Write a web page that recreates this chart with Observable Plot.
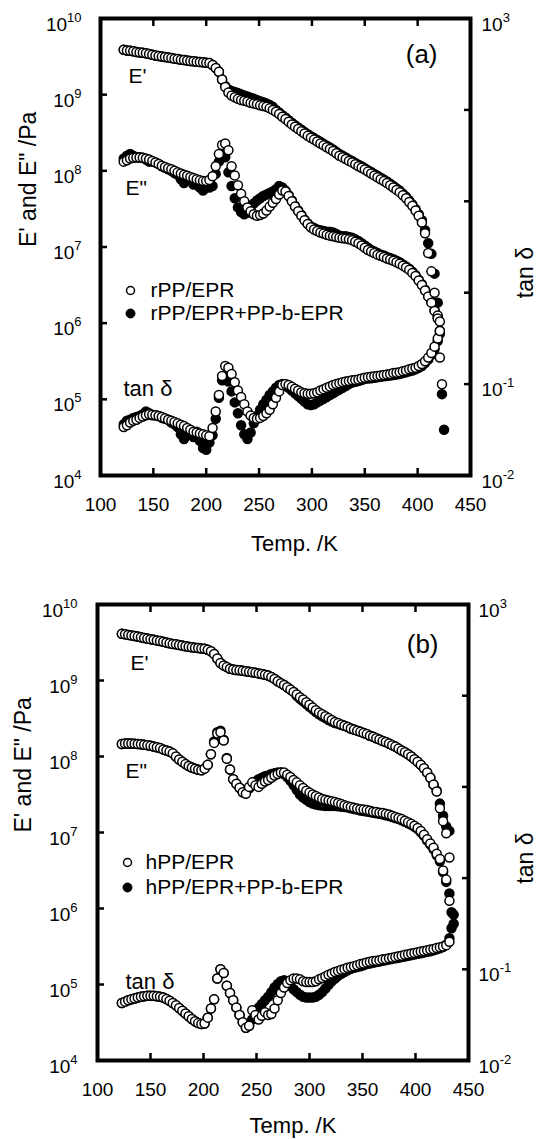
<!DOCTYPE html>
<html><head><meta charset="utf-8">
<script src="https://cdn.jsdelivr.net/npm/d3@7"></script>
<script src="https://cdn.jsdelivr.net/npm/@observablehq/plot@0.6"></script>
<style>
html,body{margin:0;padding:0;background:#fff;}
#chart{width:541px;height:1139px;overflow:hidden;background:#fff;}
#chart svg{display:block;}
</style></head><body><div id="chart"></div>
<script>
// ---------- Panel (a): temperatures (K) ----------
const tempA = [122,125,128,131,134,137,140,143,146,149,
152,155,158,161,164,167,170,173,176,179,
182,185,188,191,194,197,200,203,206,209,
212,215,218,221,224,227,230,233,236,239,
242,245,248,251,254,257,260,263,266,269,
272,275,278,281,284,287,290,293,296,299,
302,305,308,311,314,317,320,323,326,329,
332,335,338,341,344,347,350,353,356,359,
362,365,368,371,374,377,380,383,386,389,
392,395,398,401,404,407,410,413,416,419,
421,423,425];
// rPP/EPR (open circles)
const rppStorage = [3.89e9,3.80e9,3.76e9,3.72e9,3.63e9,3.59e9,3.55e9,3.50e9,3.43e9,3.35e9,
3.27e9,3.21e9,3.16e9,3.13e9,3.07e9,3.02e9,2.97e9,2.93e9,2.88e9,2.85e9,
2.81e9,2.77e9,2.74e9,2.71e9,2.69e9,2.66e9,2.63e9,2.60e9,2.45e9,2.24e9,
2.00e9,1.58e9,1.26e9,1.07e9,9.77e8,9.23e8,8.81e8,8.51e8,8.32e8,8.13e8,
7.85e8,7.67e8,7.50e8,7.24e8,7.08e8,6.92e8,6.61e8,6.31e8,5.96e8,5.56e8,
5.13e8,4.79e8,4.42e8,4.07e8,3.80e8,3.55e8,3.31e8,3.09e8,2.88e8,2.72e8,
2.57e8,2.43e8,2.29e8,2.16e8,2.04e8,1.93e8,1.82e8,1.70e8,1.58e8,1.51e8,
1.43e8,1.35e8,1.29e8,1.22e8,1.15e8,1.10e8,1.04e8,9.77e7,9.23e7,8.71e7,
8.22e7,7.76e7,7.33e7,6.92e7,6.46e7,6.03e7,5.62e7,5.25e7,4.79e7,4.37e7,
3.89e7,3.47e7,3.02e7,2.57e7,2.09e7,1.51e7,8.32e6,4.79e6,2.51e6,1.26e6,
3.55e5,1.58e5,null];
const rppLoss = [1.32e8,1.38e8,1.45e8,1.48e8,1.50e8,1.50e8,1.48e8,1.45e8,1.41e8,1.35e8,
1.29e8,1.23e8,1.17e8,1.12e8,1.08e8,1.05e8,1.00e8,9.55e7,9.23e7,8.91e7,
8.61e7,8.32e7,8.04e7,7.76e7,7.50e7,7.33e7,7.33e7,7.59e7,8.51e7,1.15e8,
1.66e8,2.19e8,2.29e8,1.86e8,1.15e8,8.71e7,6.46e7,5.01e7,3.98e7,3.31e7,
2.95e7,2.69e7,2.57e7,2.63e7,2.75e7,3.02e7,3.39e7,3.80e7,4.27e7,4.90e7,
5.50e7,5.37e7,4.68e7,3.98e7,3.39e7,2.95e7,2.57e7,2.24e7,2.00e7,1.82e7,
1.70e7,1.62e7,1.55e7,1.50e7,1.45e7,1.41e7,1.38e7,1.35e7,1.32e7,1.30e7,
1.29e7,1.26e7,1.23e7,1.17e7,1.12e7,1.05e7,9.77e6,9.12e6,8.71e6,8.32e6,
7.94e6,7.67e6,7.41e6,7.08e6,6.84e6,6.61e6,6.31e6,6.03e6,5.69e6,5.37e6,
5.01e6,4.57e6,4.17e6,3.63e6,3.16e6,2.69e6,2.24e6,1.86e6,1.45e6,1.15e6,
1.05e6,null,null];
const rppTan = [0.0339,0.0355,0.0380,0.0398,0.0407,0.0427,0.0442,0.0457,0.0468,0.0462,
0.0457,0.0447,0.0437,0.0422,0.0407,0.0398,0.0385,0.0372,0.0359,0.0347,
0.0331,0.0316,0.0302,0.0295,0.0288,0.0282,0.0275,0.0269,0.0331,0.0501,
0.0759,0.123,0.158,0.151,0.129,0.105,0.0851,0.0724,0.0603,0.0501,
0.0452,0.0427,0.0417,0.0427,0.0447,0.0479,0.0525,0.0603,0.0708,0.0832,
0.0977,0.100,0.0977,0.0933,0.0891,0.0851,0.0813,0.0794,0.0785,0.0785,
0.0794,0.0813,0.0851,0.0881,0.0912,0.0944,0.0977,0.100,0.102,0.105,
0.107,0.108,0.110,0.111,0.112,0.115,0.117,0.119,0.120,0.122,
0.123,0.124,0.126,0.127,0.129,0.132,0.133,0.135,0.138,0.141,
0.145,0.148,0.151,0.158,0.166,0.178,0.195,0.219,0.257,0.316,
0.380,null,null];
// rPP/EPR+PP-b-EPR (filled circles)
const rppbStorage = [3.89e9,3.80e9,3.76e9,3.72e9,3.63e9,3.59e9,3.55e9,3.50e9,3.43e9,3.35e9,
3.27e9,3.21e9,3.16e9,3.13e9,3.07e9,3.02e9,2.97e9,2.93e9,2.88e9,2.85e9,
2.81e9,2.77e9,2.74e9,2.71e9,2.69e9,2.66e9,2.63e9,2.60e9,2.45e9,2.24e9,
2.00e9,1.58e9,1.30e9,1.17e9,1.12e9,1.08e9,1.05e9,1.01e9,9.77e8,9.44e8,
9.12e8,8.81e8,8.51e8,8.22e8,7.94e8,7.67e8,7.33e8,6.92e8,6.31e8,5.82e8,
5.37e8,5.01e8,4.62e8,4.27e8,3.98e8,3.72e8,3.47e8,3.24e8,3.02e8,2.85e8,
2.69e8,2.54e8,2.40e8,2.26e8,2.14e8,2.02e8,1.91e8,1.78e8,1.66e8,1.58e8,
1.50e8,1.41e8,1.35e8,1.27e8,1.20e8,1.15e8,1.08e8,1.02e8,9.66e7,9.12e7,
8.61e7,8.13e7,7.67e7,7.24e7,6.76e7,6.31e7,5.89e7,5.50e7,5.01e7,4.57e7,
4.07e7,3.63e7,3.16e7,2.69e7,2.24e7,1.66e7,1.12e7,8.13e6,4.47e6,1.86e6,
7.94e5,1.17e5,3.98e4];
const rppbLoss = [1.45e8,1.58e8,1.66e8,1.58e8,1.51e8,1.51e8,1.48e8,1.41e8,1.32e8,1.32e8,
1.29e8,1.23e8,1.15e8,1.10e8,1.05e8,1.00e8,9.33e7,8.91e7,7.76e7,6.92e7,
7.94e7,7.59e7,6.61e7,6.92e7,6.03e7,5.50e7,6.31e7,6.03e7,6.31e7,9.12e7,
1.32e8,1.74e8,1.51e8,9.55e7,6.31e7,4.37e7,3.31e7,2.88e7,2.69e7,2.82e7,
3.31e7,3.72e7,4.07e7,4.37e7,4.68e7,4.90e7,5.13e7,5.37e7,5.75e7,6.31e7,
6.03e7,5.50e7,4.79e7,4.07e7,3.47e7,3.02e7,2.63e7,2.29e7,2.04e7,1.86e7,
1.78e7,1.70e7,1.66e7,1.62e7,1.58e7,1.58e7,1.55e7,1.48e7,1.41e7,1.38e7,
1.38e7,1.35e7,1.32e7,1.26e7,1.20e7,1.12e7,1.05e7,9.77e6,9.12e6,8.71e6,
8.32e6,7.94e6,7.76e6,7.41e6,7.16e6,6.92e6,6.61e6,6.31e6,5.89e6,5.56e6,
5.19e6,4.73e6,4.27e6,3.72e6,3.24e6,2.75e6,2.29e6,1.91e6,1.48e6,1.20e6,
null,null,null];
const rppbTan = [0.0363,0.0398,0.0407,0.0427,0.0437,0.0447,0.0468,0.0501,0.0479,0.0457,
0.0457,0.0447,0.0427,0.0417,0.0407,0.0380,0.0363,0.0339,0.0282,0.0251,
0.0316,0.0295,0.0263,0.0302,0.0240,0.0200,0.0191,0.0229,0.0275,0.0417,
0.0708,0.110,0.120,0.107,0.0832,0.0631,0.0479,0.0355,0.0282,0.0251,
0.0295,0.0372,0.0447,0.0525,0.0603,0.0676,0.0759,0.0832,0.0912,0.0977,
0.100,0.0977,0.0912,0.0851,0.0794,0.0741,0.0692,0.0646,0.0603,0.0589,
0.0603,0.0631,0.0661,0.0692,0.0724,0.0759,0.0794,0.0832,0.0871,0.0912,
0.0955,0.100,0.104,0.106,0.108,0.111,0.114,0.115,0.116,0.117,
0.119,0.120,0.122,0.123,0.124,0.126,0.127,0.129,0.132,0.135,
0.138,0.141,0.145,0.151,0.158,0.170,0.186,0.209,0.240,0.295,
0.355,null,null];

// ---------- Panel (b): temperatures (K) ----------
const tempB = [123,126,129,132,135,138,141,144,147,150,
153,156,159,162,165,168,171,174,177,180,
183,186,189,192,195,198,201,204,207,210,
213,216,219,222,225,228,231,234,237,240,
243,246,249,252,255,258,261,264,267,270,
273,276,279,282,285,288,291,294,297,300,
303,306,309,312,315,318,321,324,327,330,
333,336,339,342,345,348,351,354,357,360,
363,366,369,372,375,378,381,384,387,390,
393,396,399,402,405,408,411,414,417,420,
423,426,429,432,434,436];
// hPP/EPR (open circles)
const hppStorage = [4.11e9,4.05e9,3.98e9,3.92e9,3.85e9,3.78e9,3.71e9,3.63e9,3.56e9,3.50e9,
3.43e9,3.37e9,3.30e9,3.24e9,3.16e9,3.09e9,3.03e9,2.99e9,2.93e9,2.88e9,
2.83e9,2.79e9,2.74e9,2.70e9,2.67e9,2.64e9,2.62e9,2.54e9,2.43e9,2.24e9,
1.95e9,1.70e9,1.58e9,1.50e9,1.43e9,1.40e9,1.37e9,1.36e9,1.34e9,1.32e9,
1.30e9,1.28e9,1.26e9,1.24e9,1.22e9,1.19e9,1.16e9,1.11e9,1.05e9,9.77e8,
9.23e8,8.71e8,8.13e8,7.59e8,7.08e8,6.53e8,6.03e8,5.62e8,5.19e8,4.79e8,
4.42e8,4.07e8,3.80e8,3.59e8,3.39e8,3.20e8,3.02e8,2.85e8,2.75e8,2.63e8,
2.54e8,2.45e8,2.34e8,2.26e8,2.19e8,2.11e8,2.04e8,1.97e8,1.88e8,1.82e8,
1.74e8,1.68e8,1.60e8,1.55e8,1.48e8,1.41e8,1.35e8,1.27e8,1.20e8,1.14e8,
1.07e8,1.00e8,9.23e7,8.51e7,7.76e7,7.00e7,6.17e7,5.25e7,4.27e7,3.47e7,
2.09e7,1.41e7,9.77e6,4.68e6,null,null];
const hppLoss = [1.46e8,1.48e8,1.48e8,1.48e8,1.47e8,1.46e8,1.45e8,1.43e8,1.41e8,1.38e8,
1.35e8,1.32e8,1.29e8,1.24e8,1.20e8,1.16e8,1.10e8,1.00e8,9.12e7,8.51e7,
7.94e7,7.50e7,7.16e7,6.92e7,6.68e7,6.61e7,6.92e7,7.76e7,1.07e8,1.51e8,
2.00e8,2.09e8,1.62e8,9.33e7,6.76e7,5.01e7,4.37e7,3.89e7,3.39e7,3.24e7,
3.98e7,4.57e7,4.17e7,3.98e7,4.37e7,4.68e7,4.90e7,5.25e7,5.62e7,5.89e7,
6.17e7,6.17e7,5.75e7,5.37e7,4.90e7,4.57e7,4.17e7,3.85e7,3.55e7,3.35e7,
3.16e7,3.02e7,2.88e7,2.75e7,2.69e7,2.63e7,2.57e7,2.51e7,2.45e7,2.37e7,
2.29e7,2.21e7,2.16e7,2.11e7,2.07e7,2.02e7,2.00e7,1.97e7,1.93e7,1.88e7,
1.86e7,1.82e7,1.80e7,1.76e7,1.72e7,1.66e7,1.60e7,1.55e7,1.50e7,1.43e7,
1.36e7,1.30e7,1.23e7,1.15e7,1.05e7,9.33e6,8.13e6,7.16e6,6.31e6,5.25e6,
4.47e6,3.16e6,2.40e6,1.26e6,null,null];
const hppTan = [0.0427,0.0442,0.0457,0.0468,0.0479,0.0490,0.0501,0.0507,0.0513,0.0513,
0.0513,0.0507,0.0501,0.0490,0.0473,0.0452,0.0427,0.0403,0.0376,0.0351,
0.0327,0.0305,0.0285,0.0269,0.0257,0.0251,0.0254,0.0295,0.0372,0.0468,
0.0794,0.100,0.0912,0.0661,0.0550,0.0457,0.0380,0.0316,0.0263,0.0229,
0.0240,0.0355,0.0316,0.0282,0.0309,0.0339,0.0316,0.0324,0.0372,0.0457,
0.0550,0.0631,0.0708,0.0759,0.0794,0.0794,0.0776,0.0741,0.0724,0.0724,
0.0724,0.0741,0.0776,0.0804,0.0832,0.0871,0.0902,0.0933,0.0955,0.0989,
0.101,0.104,0.106,0.108,0.111,0.114,0.116,0.119,0.121,0.123,
0.124,0.126,0.129,0.130,0.132,0.134,0.136,0.139,0.141,0.144,
0.146,0.149,0.151,0.154,0.157,0.159,0.162,0.165,0.167,0.171,
0.174,0.178,0.184,0.200,null,null];
// hPP/EPR+PP-b-EPR (filled circles)
const hppbStorage = [4.11e9,4.05e9,3.98e9,3.92e9,3.85e9,3.78e9,3.71e9,3.63e9,3.56e9,3.50e9,
3.43e9,3.37e9,3.30e9,3.24e9,3.16e9,3.09e9,3.03e9,2.99e9,2.93e9,2.88e9,
2.83e9,2.79e9,2.74e9,2.70e9,2.67e9,2.64e9,2.62e9,2.54e9,2.43e9,2.24e9,
1.95e9,1.70e9,1.58e9,1.50e9,1.43e9,1.40e9,1.37e9,1.36e9,1.34e9,1.32e9,
1.30e9,1.28e9,1.26e9,1.24e9,1.22e9,1.19e9,1.16e9,1.11e9,1.05e9,9.77e8,
9.23e8,8.71e8,8.13e8,7.59e8,7.08e8,6.31e8,5.75e8,5.31e8,4.90e8,4.52e8,
4.17e8,3.85e8,3.59e8,3.39e8,3.20e8,3.02e8,2.88e8,2.75e8,2.69e8,2.60e8,
2.54e8,2.45e8,2.34e8,2.26e8,2.19e8,2.11e8,2.04e8,1.97e8,1.88e8,1.82e8,
1.74e8,1.68e8,1.60e8,1.55e8,1.48e8,1.41e8,1.35e8,1.27e8,1.20e8,1.14e8,
1.07e8,1.00e8,9.23e7,8.51e7,7.76e7,7.00e7,6.17e7,5.25e7,4.27e7,3.55e7,
2.40e7,1.66e7,1.20e7,1.05e7,null,null];
const hppbLoss = [1.46e8,1.48e8,1.48e8,1.48e8,1.47e8,1.46e8,1.45e8,1.43e8,1.41e8,1.38e8,
1.35e8,1.32e8,1.29e8,1.24e8,1.20e8,1.16e8,1.10e8,1.00e8,9.12e7,8.51e7,
7.94e7,7.50e7,7.16e7,6.92e7,6.68e7,6.61e7,6.92e7,7.76e7,1.07e8,1.58e8,
2.09e8,2.19e8,1.66e8,9.55e7,6.76e7,5.01e7,4.37e7,3.89e7,3.39e7,3.55e7,
3.80e7,4.27e7,4.68e7,5.01e7,5.25e7,5.50e7,5.62e7,5.89e7,6.03e7,6.17e7,
6.17e7,5.89e7,5.37e7,4.79e7,4.17e7,3.63e7,3.16e7,2.88e7,2.69e7,2.51e7,
2.40e7,2.34e7,2.29e7,2.26e7,2.24e7,2.24e7,2.24e7,2.24e7,2.21e7,2.19e7,
2.16e7,2.14e7,2.09e7,2.04e7,2.00e7,1.95e7,1.92e7,1.89e7,1.86e7,1.82e7,
1.79e7,1.76e7,1.73e7,1.69e7,1.65e7,1.60e7,1.55e7,1.50e7,1.45e7,1.38e7,
1.32e7,1.26e7,1.19e7,1.11e7,1.01e7,9.02e6,7.85e6,6.92e6,6.03e6,5.01e6,
4.17e6,3.02e6,2.24e6,1.58e6,8.91e5,6.31e5];
const hppbTan = [0.0427,0.0442,0.0457,0.0468,0.0479,0.0490,0.0501,0.0507,0.0513,0.0513,
0.0513,0.0507,0.0501,0.0490,0.0473,0.0452,0.0427,0.0403,0.0376,0.0351,
0.0327,0.0305,0.0285,0.0269,0.0257,0.0251,0.0254,0.0295,0.0372,0.0468,
0.0794,0.100,0.0912,0.0661,0.0550,0.0457,0.0380,0.0316,0.0263,0.0229,
0.0240,0.0282,0.0339,0.0380,0.0417,0.0457,0.0501,0.0562,0.0631,0.0692,
0.0741,0.0759,0.0724,0.0661,0.0603,0.0562,0.0525,0.0501,0.0490,0.0490,
0.0490,0.0501,0.0525,0.0562,0.0617,0.0676,0.0741,0.0794,0.0851,0.0891,
0.0933,0.0977,0.101,0.104,0.106,0.108,0.111,0.114,0.116,0.118,
0.120,0.122,0.124,0.126,0.128,0.130,0.132,0.134,0.136,0.138,
0.141,0.143,0.145,0.148,0.150,0.153,0.156,0.158,0.162,0.166,
0.170,0.176,0.186,0.219,0.282,0.398];

// ---------- Labels and ticks ----------
const seriesA = ["rPP/EPR", "rPP/EPR+PP-b-EPR"];
const seriesB = ["hPP/EPR", "hPP/EPR+PP-b-EPR"];
const curveLabels = ["E'", "E\"", "tan δ"];
const panelTags = ["(a)", "(b)"];
const xTitle = "Temp. /K";
const yTitle = "E' and E\" /Pa";
const y2Title = "tan δ";
const tempTicks = [100, 150, 200, 250, 300, 350, 400, 450];
const modulusTicks = [1e4, 1e5, 1e6, 1e7, 1e8, 1e9, 1e10];
const tanTicks = [1e-2, 1e-1, 1e0, 1e1, 1e2, 1e3];

const FONT = '"Liberation Sans", Arial, Helvetica, sans-serif';
// right axis (tan δ: 1e-2..1e3) shares the pixel range of the left axis (1e4..1e10)
const tanToE = t => 10 ** (4 + 1.2 * (Math.log10(t) + 2));
const eToTan = e => 10 ** ((Math.log10(e) - 4) / 1.2 - 2);

function rows(temps, e1, e2, tan) {
  const out = [];
  temps.forEach((T, i) => {
    if (e1[i] != null) out.push({T, y: e1[i]});
    if (e2[i] != null) out.push({T, y: e2[i]});
    if (tan[i] != null) out.push({T, y: tanToE(tan[i])});
  });
  return out;
}

function superscripts(svg) {
  d3.select(svg).selectAll("text").each(function () {
    const s = this.textContent;
    const k = s.indexOf("^");
    if (k < 0) return;
    this.textContent = s.slice(0, k);
    d3.select(this).append("tspan").attr("font-size", 13).attr("dy", -9).text(s.slice(k + 1));
  });
}

function label(text, anchor, dx, dy, size, extra = {}) {
  return Plot.text([text], {frameAnchor: anchor, lineAnchor: "middle", dx, dy, fontSize: size, text: d => d, ...extra});
}

function makePanel(c) {
  const openRows = rows(c.temps, ...c.open);
  const filledRows = rows(c.temps, ...c.filled);
  const inner = tempTicks.slice(1, -1);
  const svg = Plot.plot({
    width: 541, height: c.height,
    marginLeft: c.ml, marginRight: c.mr, marginTop: c.mt, marginBottom: c.mb,
    style: {fontFamily: FONT, fontSize: "19px", color: "#000", background: "#fff", overflow: "visible"},
    x: {domain: [100, 450], axis: null},
    y: {type: "log", domain: [1e4, 1e10], axis: null},
    marks: [
      Plot.dot(filledRows, {x: "T", y: "y", r: 4.5, fill: "#000", stroke: "#000", strokeWidth: 1.5}),
      Plot.dot(openRows, {x: "T", y: "y", r: 4.5, fill: "#fff", stroke: "#000", strokeWidth: 1.5}),
      Plot.frame({stroke: "#000", strokeWidth: 4}),
      Plot.axisX({ticks: inner, tickSize: 7, dy: -7, tickFormat: () => "", strokeWidth: 2.5, label: null}),
      Plot.axisX({anchor: "top", ticks: inner, tickSize: 7, dy: 7, tickFormat: () => "", strokeWidth: 2.5, label: null}),
      Plot.axisX({ticks: tempTicks, tickSize: 0, tickPadding: 22, tickFormat: d => String(d), fontSize: 19, label: null}),
      Plot.axisY({ticks: modulusTicks.slice(1, -1), tickSize: 7, dx: 7, tickFormat: () => "", strokeWidth: 2.5, label: null}),
      Plot.axisY({ticks: modulusTicks, tickSize: 0, tickPadding: c.padL, dy: 6, tickFormat: d => "10^" + Math.round(Math.log10(d)), fontSize: 19, label: null}),
      Plot.axisY({anchor: "right", ticks: tanTicks.slice(1, -1).map(tanToE), tickSize: 7, dx: -7, tickFormat: () => "", strokeWidth: 2.5, label: null}),
      Plot.axisY({anchor: "right", ticks: tanTicks.map(tanToE), tickSize: 0, tickPadding: c.padR, dy: 6, tickFormat: d => "10^" + Math.round(Math.log10(eToTan(d))), fontSize: 19, label: null}),
      label(xTitle, "bottom", c.xtDx, c.xtDy, 22),
      label(yTitle, "left", c.ytDx, 0, 23, {rotate: -90}),
      label(y2Title, "right", c.y2tDx, 0, 23, {rotate: -90}),
      label(c.tag, "top-right", c.tagDx, c.tagDy, 26, {textAnchor: "end"}),
      label(curveLabels[0], "top-left", c.l1[0], c.l1[1], 21, {textAnchor: "start"}),
      label(curveLabels[1], "top-left", c.l2[0], c.l2[1], 21, {textAnchor: "start"}),
      label(curveLabels[2], "top-left", c.l3[0], c.l3[1], 22, {textAnchor: "start"}),
      Plot.dot([c.names[0]], {frameAnchor: "top-left", dx: c.leg[0], dy: c.leg[1], r: 4, fill: "#fff", stroke: "#000", strokeWidth: 1.5}),
      Plot.dot([c.names[1]], {frameAnchor: "top-left", dx: c.leg[0], dy: c.leg[1] + c.leg[3], r: 4.5, fill: "#000", stroke: "#000", strokeWidth: 1}),
      label(c.names[0], "top-left", c.leg[2], c.leg[1], 21, {textAnchor: "start"}),
      label(c.names[1], "top-left", c.leg[2], c.leg[1] + c.leg[3], 21, {textAnchor: "start"})
    ]
  });
  superscripts(svg);
  return svg;
}

const chart = document.getElementById("chart");
chart.append(makePanel({
  temps: tempA,
  open: [rppStorage, rppLoss, rppTan],
  filled: [rppbStorage, rppbLoss, rppbTan],
  names: seriesA, tag: panelTags[0],
  height: 580, ml: 100, mr: 71, mt: 18, mb: 105, padL: 19, padR: 11,
  xtDx: 9, xtDy: 68, ytDx: -72, y2tDx: 55, tagDx: -33, tagDy: 36,
  l1: [28, 58], l2: [25, 170], l3: [23, 370], leg: [30, 272, 50, 23]
}));
chart.append(makePanel({
  temps: tempB,
  open: [hppStorage, hppLoss, hppTan],
  filled: [hppbStorage, hppbLoss, hppbTan],
  names: seriesB, tag: panelTags[1],
  height: 559, ml: 97, mr: 73, mt: 24, mb: 79, padL: 20, padR: 10,
  xtDx: 10, xtDy: 65, ytDx: -74, y2tDx: 57, tagDx: -30, tagDy: 40,
  l1: [33, 59], l2: [28, 167], l3: [28, 377], leg: [30, 258, 48, 25]
}));
</script>
</body></html>
